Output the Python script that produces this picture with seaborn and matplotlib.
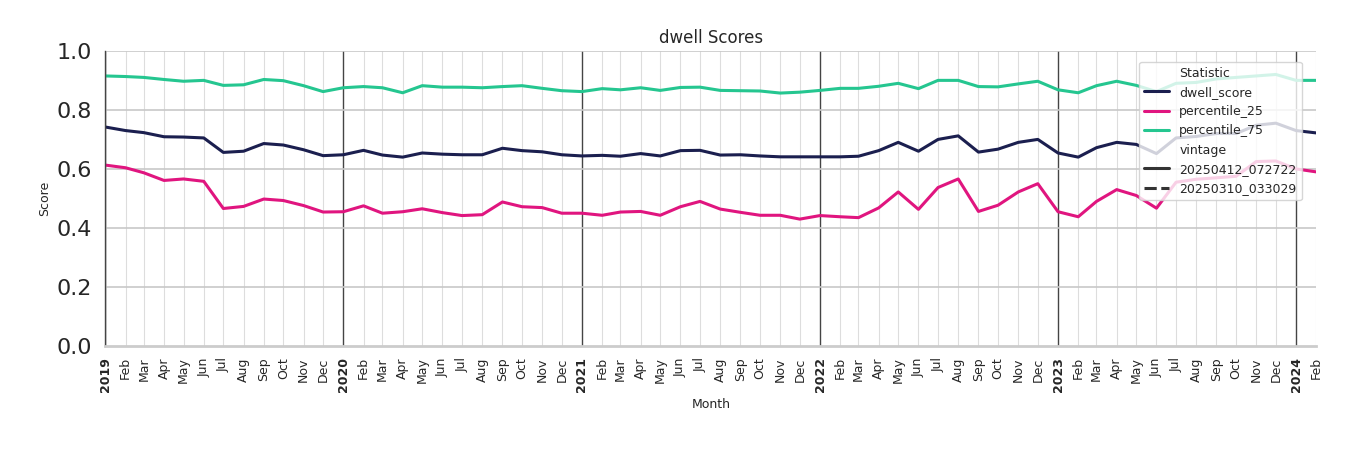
import numpy as np
import pandas as pd
import matplotlib
matplotlib.use("Agg")
import matplotlib.pyplot as plt
import seaborn as sns

months = pd.date_range("2019-01-01", "2024-02-01", freq="MS")
dwell_score = [0.742,0.73,0.723,0.709,0.708,0.705,0.656,0.66,0.686,0.681,0.665,0.645,
    0.648,0.663,0.647,0.64,0.654,0.65,0.648,0.648,0.67,0.662,0.658,0.648,
    0.644,0.646,0.643,0.652,0.644,0.662,0.663,0.647,0.648,0.644,0.641,0.641,
    0.641,0.641,0.643,0.662,0.69,0.66,0.7,0.712,0.657,0.667,0.69,0.7,
    0.654,0.64,0.672,0.69,0.683,0.652,0.705,0.71,0.72,0.72,0.748,0.755,
    0.73,0.722]
percentile_25 = [0.613,0.604,0.587,0.561,0.566,0.558,0.466,0.473,0.498,0.493,0.476,0.454,
    0.455,0.475,0.45,0.455,0.465,0.452,0.442,0.445,0.488,0.472,0.469,0.45,
    0.45,0.443,0.454,0.456,0.443,0.472,0.49,0.464,0.453,0.443,0.443,0.43,
    0.442,0.438,0.435,0.468,0.522,0.463,0.537,0.566,0.456,0.477,0.522,0.55,
    0.455,0.438,0.49,0.53,0.51,0.467,0.555,0.565,0.57,0.575,0.625,0.627,
    0.6,0.59]
percentile_75 = [0.915,0.913,0.91,0.903,0.897,0.9,0.883,0.885,0.903,0.899,0.882,0.862,
    0.875,0.879,0.875,0.858,0.882,0.877,0.877,0.875,0.879,0.882,0.873,0.865,
    0.862,0.872,0.868,0.875,0.866,0.876,0.877,0.866,0.865,0.864,0.857,0.86,
    0.866,0.873,0.873,0.88,0.89,0.872,0.9,0.9,0.879,0.878,0.888,0.897,
    0.868,0.858,0.882,0.897,0.883,0.862,0.89,0.893,0.905,0.91,0.915,0.92,
    0.9,0.9]
vintages = ["20250412_072722", "20250310_033029"]
stat_names = ["dwell_score", "percentile_25", "percentile_75"]
colors = ["#1b1f4f", "#e0157f", "#25c690"]

rows = []
for name, vals in zip(stat_names, [dwell_score, percentile_25, percentile_75]):
    for m, v in zip(months, vals):
        rows.append({"Month": m, "Score": v, "Statistic": name, "vintage": vintages[0]})
df = pd.DataFrame(rows)

sns.set_theme(style="white")
fig = plt.figure(figsize=(13.5, 4.5), dpi=100)
ax = fig.add_axes([0.078, 0.231, 0.897, 0.656])

for m in months:
    if m.month == 1:
        ax.axvline(m, color="#444444", lw=1.0, zorder=0)
    else:
        ax.axvline(m, color="#dddddd", lw=0.8, zorder=0)
for y in [0.2, 0.4, 0.6, 0.8, 1.0]:
    ax.axhline(y, color="#c8c8c8", lw=1.2, zorder=0)

sns.lineplot(data=df, x="Month", y="Score", hue="Statistic", style="vintage",
             style_order=vintages, hue_order=stat_names, palette=colors,
             linewidth=2.2, ax=ax)

ax.set_xlim(months[0], months[-1])
ax.set_ylim(0, 1.0)
ax.set_yticks([0, 0.2, 0.4, 0.6, 0.8, 1.0])
ax.set_yticklabels(["0.0", "0.2", "0.4", "0.6", "0.8", "1.0"], fontsize=16)
ax.set_xticks(months)
labels = [str(m.year) if m.month == 1 else m.strftime("%b") for m in months]
ax.set_xticklabels(labels, rotation=90, fontsize=9)
for t, m in zip(ax.get_xticklabels(), months):
    if m.month == 1:
        t.set_fontweight("bold")
ax.tick_params(axis="x", pad=2)
ax.set_xlabel("Month", fontsize=9)
ax.set_ylabel("Score", fontsize=9)
ax.set_title("dwell Scores", fontsize=12)
for s in ["top", "right"]:
    ax.spines[s].set_visible(False)
ax.spines["left"].set_color("#444444")
ax.spines["left"].set_linewidth(1.0)
ax.spines["bottom"].set_color("#cccccc")
ax.spines["bottom"].set_linewidth(2)

ax.legend(loc="upper right", fontsize=9, framealpha=0.8, bbox_to_anchor=(0.993, 0.985))

fig.savefig("out.png", dpi=100)
